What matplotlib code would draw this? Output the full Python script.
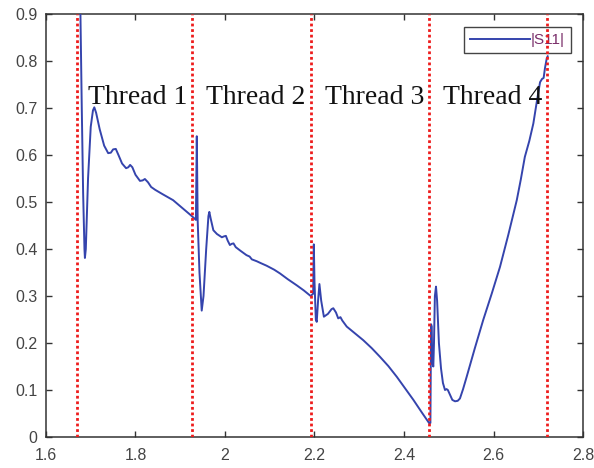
import matplotlib.pyplot as plt

# |S11| sweep, frequency in GHz
freq = [1.676, 1.677, 1.680, 1.683, 1.686, 1.687, 1.689, 1.694, 1.700, 1.705,
        1.708, 1.712, 1.720, 1.730, 1.739, 1.745, 1.750, 1.756, 1.762, 1.770,
        1.779, 1.784, 1.788, 1.793, 1.800, 1.810, 1.816, 1.821, 1.828, 1.835,
        1.844, 1.860, 1.884, 1.905, 1.926, 1.935, 1.937, 1.939, 1.943, 1.948,
        1.952, 1.958, 1.963, 1.965, 1.968, 1.974, 1.982, 1.993, 1.998, 2.002,
        2.006, 2.011, 2.015, 2.019, 2.024, 2.035, 2.048, 2.055, 2.060, 2.071,
        2.080, 2.093, 2.110, 2.123, 2.140, 2.160, 2.176, 2.1915, 2.197, 2.1985,
        2.200, 2.203, 2.205, 2.208, 2.211, 2.215, 2.221, 2.230, 2.238, 2.242,
        2.248, 2.253, 2.258, 2.262, 2.272, 2.290, 2.309, 2.328, 2.346, 2.365,
        2.384, 2.402, 2.421, 2.440, 2.4566, 2.459, 2.4605, 2.462, 2.463, 2.4655,
        2.467, 2.469, 2.4715, 2.474, 2.478, 2.4827, 2.487, 2.4916, 2.495, 2.498,
        2.5028, 2.508, 2.514, 2.520, 2.525, 2.532, 2.540, 2.558, 2.577, 2.596,
        2.6145, 2.633, 2.652, 2.661, 2.670, 2.680, 2.689, 2.697, 2.704, 2.7085,
        2.712, 2.715, 2.719, 2.721]
s11 = [0.98, 0.90, 0.70, 0.52, 0.40, 0.381, 0.40, 0.55, 0.66, 0.695,
       0.7015, 0.69, 0.655, 0.62, 0.604, 0.605, 0.612, 0.613, 0.600, 0.582,
       0.572, 0.574, 0.579, 0.574, 0.558, 0.545, 0.546, 0.549, 0.542, 0.532,
       0.526, 0.517, 0.504, 0.487, 0.470, 0.462, 0.64, 0.46, 0.35, 0.269,
       0.30, 0.40, 0.47, 0.479, 0.465, 0.440, 0.432, 0.425, 0.427, 0.428,
       0.418, 0.4085, 0.411, 0.412, 0.404, 0.396, 0.387, 0.384, 0.378, 0.374,
       0.370, 0.3645, 0.356, 0.348, 0.336, 0.323, 0.312, 0.300, 0.305, 0.41,
       0.33, 0.25, 0.245, 0.29, 0.3255, 0.29, 0.256, 0.262, 0.272, 0.274,
       0.265, 0.2525, 0.255, 0.248, 0.235, 0.221, 0.206, 0.189, 0.171, 0.151,
       0.128, 0.104, 0.079, 0.052, 0.029, 0.03, 0.24, 0.235, 0.16, 0.15,
       0.20, 0.30, 0.32, 0.29, 0.20, 0.146, 0.115, 0.100, 0.102, 0.10,
       0.09, 0.079, 0.076, 0.077, 0.082, 0.102, 0.128, 0.188, 0.249, 0.305,
       0.362, 0.430, 0.504, 0.548, 0.596, 0.630, 0.667, 0.715, 0.755, 0.762,
       0.764, 0.785, 0.806, 0.81]

# thread boundaries and label positions
bounds = [1.670, 1.926, 2.1915, 2.4565, 2.72]
thread_labels = ['Thread 1', 'Thread 2', 'Thread 3', 'Thread 4']
label_x = [1.806, 2.068, 2.334, 2.597]
label_y = 0.708

xticks = [1.6, 1.8, 2.0, 2.2, 2.4, 2.6, 2.8]
xtick_labels = ['1.6', '1.8', '2', '2.2', '2.4', '2.6', '2.8']
yticks = [0, 0.1, 0.2, 0.3, 0.4, 0.5, 0.6, 0.7, 0.8, 0.9]
ytick_labels = ['0', '0.1', '0.2', '0.3', '0.4', '0.5', '0.6', '0.7', '0.8', '0.9']

plt.rcParams['font.family'] = ['Liberation Sans', 'DejaVu Sans']

fig = plt.figure(figsize=(5.94, 4.68), dpi=100)
ax = fig.add_axes([0.0774, 0.0662, 0.9041, 0.9038])

ax.plot(freq, s11, color='#3544ad', lw=1.4, label='|S11|', zorder=3)

for b in bounds:
    ax.axvline(b, color='#ee1c1c', lw=2.0, linestyle=(0, (1, 1)), zorder=6)

for x, t in zip(label_x, thread_labels):
    ax.text(x, label_y, t, ha='center', va='baseline', fontsize=20,
            family='Liberation Serif', color='#111111', zorder=4)

ax.set_xlim(1.6, 2.8)
ax.set_ylim(0, 0.9)
ax.set_xticks(xticks)
ax.set_xticklabels(xtick_labels)
ax.set_yticks(yticks)
ax.set_yticklabels(ytick_labels)
ax.tick_params(direction='in', length=4, width=1, colors='#333333',
               labelcolor='#444444', labelsize=11.5, top=True, right=True)
ax.tick_params(axis='x', pad=8)
ax.tick_params(axis='y', pad=6)
for sp in ax.spines.values():
    sp.set_color('#333333')
    sp.set_linewidth(1.1)

leg = ax.legend(loc='upper right', bbox_to_anchor=(0.978, 0.969), fontsize=11,
                frameon=True, fancybox=False, handlelength=3.9, handletextpad=0.1,
                borderpad=0.4, borderaxespad=0)
leg.get_frame().set_edgecolor('#444444')
leg.get_frame().set_linewidth(1.0)
leg.get_frame().set_alpha(1.0)
leg.set_zorder(5)
for txt in leg.get_texts():
    txt.set_color('#7a2e6a')

fig.savefig('out.png', dpi=100)
